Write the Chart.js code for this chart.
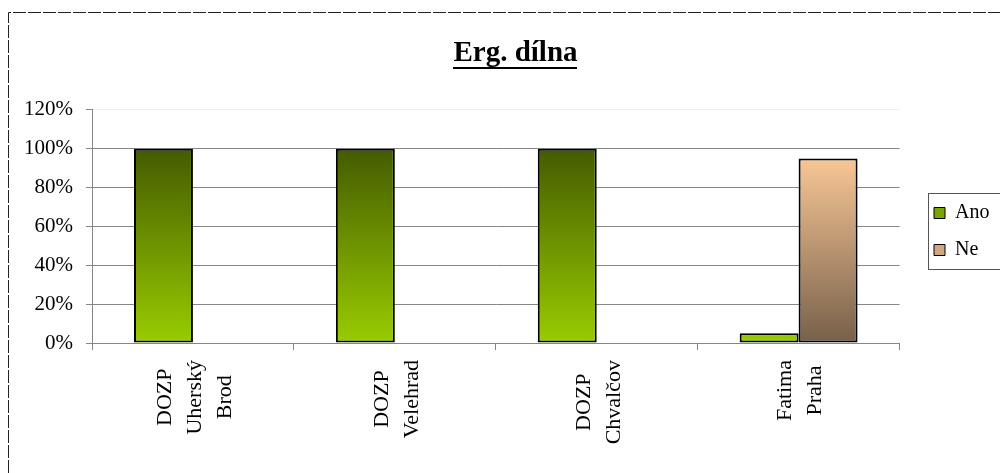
<!DOCTYPE html>
<html lang="cs">
<head>
<meta charset="utf-8">
<title>Erg. dílna</title>
<script src="https://cdn.jsdelivr.net/npm/chart.js@4/dist/chart.umd.min.js"></script>
<style>
  html, body { margin: 0; padding: 0; background: #fff; overflow: hidden; }
  #wrap { position: relative; width: 1000px; height: 473px; overflow: hidden; }
  #chart { position: absolute; left: 0; top: 0; }
</style>
</head>
<body>
<div id="wrap"><canvas id="chart" width="1022" height="473"></canvas></div>
<script>
// Data
const categories = [
  ['DOZP', 'Uherský', 'Brod'],
  ['DOZP', 'Velehrad'],
  ['DOZP', 'Chvalčov'],
  ['Fatima', 'Praha']
];
const seriesNames = ['Ano', 'Ne'];
const anoValues = [100, 100, 100, 5];
const neValues = [0, 0, 0, 95];
const yMax = 120;
const yStep = 20;
const chartTitle = 'Erg. dílna';

// Styling
const SERIF = "'Liberation Serif', 'Times New Roman', serif";
const GRID = '#868686';
const gradientStops = {
  Ano: ['#445b00', '#99cc00'],
  Ne: ['#ffcc99', '#76604a']
};
const swatchColors = { Ano: '#7aa500', Ne: '#d2a780' };

// vertical gradient spanning the 0–100 % band of the value axis
function barFill(name) {
  return function (ctx) {
    const chart = ctx.chart;
    const y = chart.scales && chart.scales.y;
    if (!chart.chartArea || !y) return gradientStops[name][1];
    const top = y.getPixelForValue(100);
    const bottom = y.getPixelForValue(0);
    const g = chart.ctx.createLinearGradient(0, top, 0, bottom);
    g.addColorStop(0, gradientStops[name][0]);
    g.addColorStop(1, gradientStops[name][1]);
    return g;
  };
}

const LEGEND_PAD = 17;

const decorations = {
  id: 'decorations',
  afterLayout(chart) {
    // let the value-axis labels use the space left of the axis box
    chart.scales.y.left = 8;
    // move the legend next to the plot, items starting at the top of its frame
    const lg = chart.legend;
    if (!lg) return;
    const dx = 934 - (lg.left + LEGEND_PAD);
    const dy = 203 - (lg.top + LEGEND_PAD);
    lg.left += dx; lg.right += dx;
    lg.top += dy; lg.bottom += dy;
  },
  beforeDraw(chart) {
    const ctx = chart.ctx;
    // dashed outer frame
    ctx.save();
    ctx.strokeStyle = '#222';
    ctx.lineWidth = 1;
    ctx.setLineDash([13, 2]);
    ctx.beginPath();
    ctx.moveTo(8.5, chart.height);
    ctx.lineTo(8.5, 12.5);
    ctx.lineTo(chart.width, 12.5);
    ctx.stroke();
    ctx.restore();

    // category labels: centre each line within its label block, block centred on the category
    const xs = chart.scales.x;
    const items = xs.getLabelItems();
    ctx.save();
    items.forEach(item => {
      if (item._centred) return;
      const lines = Array.isArray(item.label) ? item.label : [item.label];
      ctx.font = item.font.string;
      const w = Math.max(...lines.map(l => ctx.measureText(l).width));
      const lh = item.font.lineHeight;
      item.options.textAlign = 'center';
      item.options.translation = [
        item.options.translation[0] - (lines.length - 1) * lh / 2 + 2,
        item.options.translation[1] + w / 2
      ];
      item._centred = true;
    });
    ctx.restore();
  },
  afterDraw(chart) {
    const ctx = chart.ctx;
    // underline under the title
    const tb = chart.titleBlock;
    if (tb) {
      const f = Chart.helpers.toFont(chart.options.plugins.title.font);
      ctx.save();
      ctx.font = f.string;
      const w = ctx.measureText(chartTitle).width;
      const cx = (tb.left + tb.right) / 2;
      const cy = tb.top + chart.options.plugins.title.padding.top + f.lineHeight / 2;
      ctx.fillStyle = '#000';
      ctx.fillRect(Math.round(cx - w / 2), Math.round(cy + 14), Math.round(w), 2);
      ctx.restore();
    }
    // legend frame
    const lg = chart.legend;
    if (lg) {
      const x0 = lg.left + LEGEND_PAD - 6;
      const y0 = lg.top + LEGEND_PAD - 10;
      const y1 = y0 + 76;
      ctx.save();
      ctx.strokeStyle = '#555';
      ctx.lineWidth = 1;
      ctx.strokeRect(Math.round(x0) + 0.5, Math.round(y0) + 0.5, chart.width, Math.round(y1 - y0));
      ctx.restore();
    }
  }
};

new Chart(document.getElementById('chart'), {
  type: 'bar',
  data: {
    labels: categories,
    datasets: [
      {
        label: seriesNames[0],
        data: anoValues,
        backgroundColor: barFill('Ano'),
        borderColor: '#000',
        borderWidth: 2,
        borderSkipped: false
      },
      {
        label: seriesNames[1],
        data: neValues,
        backgroundColor: barFill('Ne'),
        borderColor: '#000',
        borderWidth: 2,
        borderSkipped: false
      }
    ]
  },
  options: {
    responsive: false,
    animation: false,
    devicePixelRatio: 1,
    layout: { autoPadding: false, padding: { left: 49, right: 40, top: 0, bottom: 0 } },
    datasets: {
      bar: { barPercentage: 1, categoryPercentage: 0.584 }
    },
    scales: {
      x: {
        grid: {
          offset: true,
          drawOnChartArea: false,
          drawTicks: true,
          tickLength: 7,
          color: GRID
        },
        border: { color: GRID, width: 1 },
        ticks: {
          autoSkip: false,
          minRotation: 90,
          maxRotation: 90,
          padding: 10,
          color: '#000',
          font: { family: SERIF, size: 22, lineHeight: 1.364 }
        },
        afterFit(s) { s.height = 130; }
      },
      y: {
        min: 0,
        max: yMax,
        grid: {
          color: c => (c.tick && c.tick.value === yMax ? '#eeeeee' : GRID),
          tickColor: GRID,
          tickLength: 6,
          drawTicks: true
        },
        border: { color: GRID, width: 1 },
        ticks: {
          stepSize: yStep,
          padding: 13,
          color: '#000',
          font: { family: SERIF, size: 21 },
          callback: v => v + '%'
        },
        afterFit(s) { s.width = 43; }
      }
    },
    plugins: {
      title: {
        display: true,
        text: chartTitle,
        color: '#000',
        font: { family: SERIF, size: 29, weight: 'bold', lineHeight: 1.2 },
        padding: { top: 36, bottom: 39 }
      },
      legend: {
        display: true,
        position: 'right',
        align: 'start',
        labels: {
          color: '#000',
          font: { family: SERIF, size: 20 },
          boxWidth: 11,
          boxHeight: 11,
          padding: LEGEND_PAD,
          generateLabels(chart) {
            const items = Chart.defaults.plugins.legend.labels.generateLabels(chart);
            items.forEach(it => {
              it.fillStyle = swatchColors[it.text];
              it.strokeStyle = '#000';
              it.lineWidth = 1;
            });
            return items;
          }
        }
      },
      tooltip: { enabled: false }
    }
  },
  plugins: [decorations]
});
</script>
</body>
</html>
